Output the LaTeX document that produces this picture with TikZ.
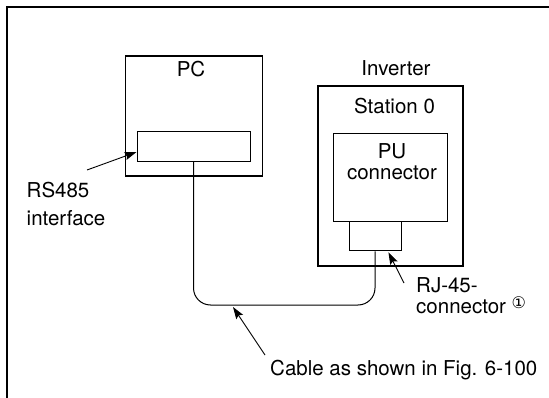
\documentclass[tikz,border=0pt]{standalone}
\usepackage{fontspec}
\setmainfont{TeX Gyre Heros}
\newfontfamily\symfont{DejaVu Sans}
\usetikzlibrary{arrows.meta,calc}

\begin{document}
\begin{tikzpicture}[x=1pt, y=-1pt,
  thickbox/.style={rectangle, draw, line width=1.8pt, inner sep=0pt},
  thinbox/.style={rectangle, draw, line width=0.9pt, inner sep=0pt},
  pointer/.style={-{Stealth[length=12pt, width=8pt, inset=2pt]}, line width=0.9pt},
  cable/.style={line width=1pt},
  lbl/.style={font=\fontsize{20.5}{24}\selectfont, inner sep=0pt},
]
\useasboundingbox (0,0) rectangle (549,398);

% frame (left and top edge)
\draw[line width=2.3pt] (6.7,398) -- (6.7,6.7) -- (549,6.7);

% === PC ===
\node[thickbox, minimum width=137pt, minimum height=120pt] (pc) at (194,116) {};
\node[lbl, anchor=base] (pclbl) at (191,77) {PC};
\node[thinbox, minimum width=113pt, minimum height=30pt] (iface) at (193.5,146) {};

% === INVERTER ===
\node[lbl, anchor=base] (invlbl) at (396,75.7) {Inverter};
\node[thickbox, minimum width=145pt, minimum height=180pt] (inv) at (390.5,176) {};
\node[lbl, anchor=base] (stlbl) at (394.5,113.3) {Station 0};
\node[thinbox, minimum width=114pt, minimum height=88pt] (pu) at (390,177) {};
\node[lbl, align=center, anchor=north, font=\fontsize{20.5}{21}\selectfont] (pulbl) at (392,143.5) {PU\\connector};
\node[thinbox, minimum width=52pt, minimum height=29pt, anchor=north] (rj) at ([xshift=-15pt]pu.south) {};

% === CABLE ===
\coordinate (low) at (0,305);
\coordinate (bend) at (rj.south |- low);
\draw[cable, rounded corners=17pt] (iface.south) |- (bend) [sharp corners] -- (rj.south);

% === LABELS ===
\node[lbl, align=left, anchor=north west, font=\fontsize{20.5}{28}\selectfont] (rslbl) at (26.5,182) {RS485\\interface};
\coordinate (rstail) at (87,170);
\draw[pointer] (rstail) -- ([yshift=-6pt]iface.west);

\node[lbl, align=left, anchor=north west, font=\fontsize{20.5}{21}\selectfont] (rjlbl) at (416,277)
  {RJ-45-\\connector \raisebox{5pt}{\fontsize{16}{16}\symfont ①}};
\coordinate (rjtail) at (404,283);
\draw[pointer] (rjtail) -- ([xshift=-13pt, yshift=-1pt]rj.south east);

\node[lbl, anchor=base west] (cablbl) at (270,375) {Cable as shown in Fig. 6-100};
\coordinate (cabtail) at (265,355);
\coordinate (cabtip) at (233,307);
\draw[pointer] (cabtail) -- (cabtip);
\end{tikzpicture}
\end{document}
